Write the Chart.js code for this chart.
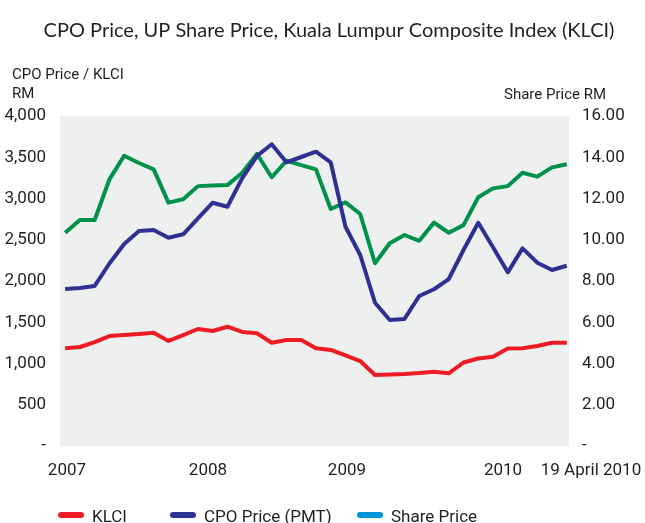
<!DOCTYPE html>
<html>
<head>
<meta charset="utf-8">
<script src="https://cdn.jsdelivr.net/npm/chart.js@4"></script>
<style>
	html, body { margin: 0; padding: 0; background: #fff; }
	#wrap { width: 645px; height: 523px; }
</style>
</head>
<body>
<div id="wrap"><canvas id="price-chart" width="645" height="523"></canvas></div>
<script>
// readings, one point per period from early 2007 to 19 April 2010
const klci = [1184, 1200, 1260, 1333, 1345, 1357, 1373, 1273, 1345, 1418, 1394, 1446, 1382, 1366, 1252, 1285, 1285, 1184,
	1164, 1097, 1030, 860, 867, 873, 885, 901, 881, 1012, 1060, 1082, 1182, 1184, 1212, 1252, 1252];
const cpoPrice = [1903, 1915, 1940, 2212, 2448, 2606, 2618, 2525, 2566, 2760, 2949, 2900, 3248, 3515, 3657, 3439, 3503, 3567,
	3439, 2658, 2315, 1737, 1527, 1540, 1818, 1900, 2024, 2376, 2706, 2408, 2105, 2396, 2222, 2133, 2185];
const sharePrice = [10.34, 10.96, 10.96, 12.93, 14.07, 13.72, 13.41, 11.80, 11.96, 12.60, 12.63, 12.65, 13.25, 14.16, 13.03,
	13.83, 13.62, 13.41, 11.49, 11.81, 11.25, 8.86, 9.83, 10.23, 9.95, 10.83, 10.34, 10.71, 12.06, 12.49, 12.60, 13.25, 13.06,
	13.51, 13.66];

const xTickLabels = ["2007", "2008", "2009", "2010", "19 April 2010"];
const xTickValues = [0.12, 9.68, 19.1, 29.68, 35.64];
const seriesNames = ["KLCI", "CPO Price (PMT)", "Share Price"];
const legendColors = ["#ed1c24", "#2e3192", "#0095da"];

const narrow = '"Liberation Sans Narrow", "Arial Narrow", "Roboto", sans-serif';

function toPoints(values) {
	return values.map((v, i) => ({ x: i, y: v }));
}

const extras = {
	id: "extras",
	beforeDraw(chart) {
		const { ctx, chartArea } = chart;
		ctx.save();
		ctx.fillStyle = "#eef0ef";
		ctx.fillRect(chartArea.left, chartArea.top, chartArea.right - chartArea.left, chartArea.bottom - chartArea.top);
		ctx.restore();
	},
	afterDraw(chart) {
		const { ctx } = chart;
		const xScale = chart.scales.x;
		ctx.save();
		ctx.fillStyle = "#231f20";
		ctx.textBaseline = "alphabetic";

		ctx.font = '20px "Lato", sans-serif';
		ctx.textAlign = "center";
		ctx.fillText("CPO Price, UP Share Price, Kuala Lumpur Composite Index (KLCI)", 329, 37);

		ctx.font = "15px " + narrow;
		ctx.textAlign = "left";
		ctx.fillText("CPO Price / KLCI", 12, 79);
		ctx.fillText("RM", 12, 98);
		ctx.textAlign = "right";
		ctx.fillText("Share Price RM", 606, 99);

		ctx.font = "17px " + narrow;
		ctx.textAlign = "center";
		xTickLabels.forEach((label, i) => {
			ctx.fillText(label, xScale.getPixelForValue(xTickValues[i]), 475);
		});

		// legend
		const legendX = [58, 170, 357];
		ctx.textAlign = "left";
		seriesNames.forEach((name, i) => {
			ctx.strokeStyle = legendColors[i];
			ctx.lineWidth = 6;
			ctx.lineCap = "round";
			ctx.beginPath();
			ctx.moveTo(legendX[i] + 3, 515);
			ctx.lineTo(legendX[i] + 23, 515);
			ctx.stroke();
			ctx.fillText(name, legendX[i] + 34, 522);
		});
		ctx.restore();
	}
};

new Chart(document.getElementById("price-chart"), {
	type: "line",
	data: {
		datasets: [
			{ label: seriesNames[0], data: toPoints(klci), borderColor: "#ed1c24", yAxisID: "y" },
			{ label: seriesNames[1], data: toPoints(cpoPrice), borderColor: "#2e3192", yAxisID: "y" },
			{ label: seriesNames[2], data: toPoints(sharePrice), borderColor: "#00914a", yAxisID: "y1" }
		]
	},
	options: {
		responsive: false,
		animation: false,
		layout: { padding: { top: 116, bottom: 77, left: 0, right: 0 } },
		elements: {
			line: { borderWidth: 4, tension: 0, borderJoinStyle: "round" },
			point: { radius: 0 }
		},
		plugins: {
			legend: { display: false },
			tooltip: { enabled: false }
		},
		scales: {
			x: {
				type: "linear",
				min: -0.35,
				max: 34.15,
				display: false
			},
			y: {
				position: "left",
				min: 0,
				max: 4000,
				grid: { display: false },
				border: { display: false },
				afterFit(scale) { scale.width = 60; },
				ticks: {
					stepSize: 500,
					padding: 6,
					color: "#231f20",
					font: { family: narrow, size: 17 },
					callback: v => v === 0 ? "-" : v.toLocaleString("en-US")
				}
			},
			y1: {
				position: "right",
				min: 0,
				max: 16,
				grid: { display: false },
				border: { display: false },
				afterFit(scale) { scale.width = 76; },
				ticks: {
					stepSize: 2,
					padding: 5,
					color: "#231f20",
					font: { family: narrow, size: 17 },
					callback: v => v === 0 ? "-" : v.toFixed(2)
				}
			}
		}
	},
	plugins: [extras]
});
</script>
</body>
</html>
